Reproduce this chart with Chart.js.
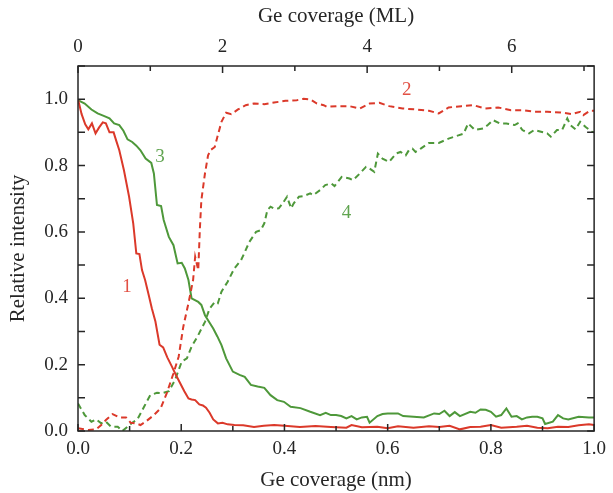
<!DOCTYPE html>
<html>
<head>
    <title>Relative intensity vs Ge coverage</title>
    <style>
        body {
            margin: 0;
            padding: 0;
            background: #fff;
        }
        .wrap {
            width: 613px;
            height: 493px;
        }
    </style>
</head>
<body>
    <div class="wrap"><canvas id="chart" width="613" height="493"></canvas></div>
    <script src="https://cdn.jsdelivr.net/npm/chart.js"></script>
    <script>
        // curve 1 (red, solid)
        var curve1X = [0, 0.007, 0.014, 0.02, 0.027, 0.034, 0.041, 0.048, 0.054, 0.061, 0.069, 0.074, 0.08, 0.089, 0.099, 0.107, 0.113, 0.119, 0.124, 0.13, 0.137, 0.143, 0.15, 0.158, 0.165, 0.173, 0.182, 0.19, 0.198, 0.206, 0.214, 0.22, 0.227, 0.235, 0.242, 0.248, 0.255, 0.262, 0.271, 0.28, 0.29, 0.303, 0.32, 0.341, 0.36, 0.38, 0.4, 0.43, 0.46, 0.49, 0.52, 0.53, 0.55, 0.58, 0.6, 0.62, 0.65, 0.68, 0.7, 0.72, 0.74, 0.76, 0.78, 0.8, 0.82, 0.85, 0.87, 0.89, 0.91, 0.93, 0.95, 0.97, 0.99, 1.0];
        var curve1Y = [1.0, 0.955, 0.924, 0.909, 0.927, 0.897, 0.915, 0.93, 0.927, 0.9, 0.9, 0.875, 0.846, 0.786, 0.706, 0.626, 0.535, 0.533, 0.485, 0.455, 0.41, 0.37, 0.33, 0.26, 0.252, 0.222, 0.194, 0.168, 0.144, 0.12, 0.098, 0.095, 0.093, 0.08, 0.077, 0.07, 0.055, 0.035, 0.023, 0.025, 0.02, 0.018, 0.017, 0.012, 0.016, 0.018, 0.016, 0.012, 0.015, 0.012, 0.01, 0.018, 0.011, 0.013, 0.008, 0.014, 0.01, 0.014, 0.012, 0.016, 0.005, 0.012, 0.013, 0.018, 0.01, 0.013, 0.016, 0.01, 0.008, 0.013, 0.012, 0.017, 0.02, 0.018];

        // curve 2 (red, dashed)
        var curve2X = [0, 0.02, 0.035, 0.045, 0.054, 0.067, 0.08, 0.093, 0.102, 0.112, 0.121, 0.131, 0.147, 0.16, 0.172, 0.185, 0.195, 0.204, 0.214, 0.223, 0.227, 0.233, 0.236, 0.239, 0.246, 0.252, 0.258, 0.265, 0.271, 0.278, 0.287, 0.297, 0.31, 0.325, 0.341, 0.361, 0.38, 0.402, 0.424, 0.437, 0.45, 0.463, 0.476, 0.482, 0.501, 0.526, 0.546, 0.565, 0.584, 0.603, 0.629, 0.654, 0.68, 0.699, 0.718, 0.743, 0.766, 0.788, 0.814, 0.839, 0.861, 0.884, 0.909, 0.935, 0.957, 0.973, 0.979, 0.992, 1.0];
        var curve2Y = [0.008, 0.003, 0.005, 0.018, 0.033, 0.051, 0.041, 0.041, 0.025, 0.023, 0.018, 0.028, 0.048, 0.068, 0.114, 0.174, 0.224, 0.314, 0.385, 0.455, 0.525, 0.485, 0.605, 0.696, 0.776, 0.831, 0.848, 0.856, 0.892, 0.932, 0.959, 0.955, 0.969, 0.982, 0.987, 0.985, 0.99, 0.995, 0.997, 1.001, 0.999, 0.987, 0.982, 0.977, 0.979, 0.979, 0.972, 0.987, 0.989, 0.979, 0.972, 0.969, 0.965, 0.957, 0.975, 0.979, 0.982, 0.972, 0.975, 0.967, 0.967, 0.962, 0.962, 0.96, 0.955, 0.962, 0.952, 0.965, 0.965];

        // curve 3 (green, solid)
        var curve3X = [0, 0.013, 0.026, 0.038, 0.051, 0.061, 0.07, 0.08, 0.088, 0.096, 0.105, 0.113, 0.121, 0.131, 0.142, 0.147, 0.153, 0.161, 0.166, 0.176, 0.185, 0.193, 0.201, 0.207, 0.214, 0.22, 0.233, 0.239, 0.246, 0.252, 0.262, 0.27, 0.278, 0.287, 0.3, 0.313, 0.323, 0.335, 0.348, 0.361, 0.373, 0.386, 0.399, 0.412, 0.431, 0.45, 0.469, 0.48, 0.49, 0.5, 0.51, 0.52, 0.53, 0.54, 0.55, 0.56, 0.565, 0.58, 0.59, 0.6, 0.62, 0.63, 0.65, 0.67, 0.69, 0.7, 0.71, 0.72, 0.73, 0.74, 0.76, 0.77, 0.78, 0.79, 0.8, 0.81, 0.82, 0.83, 0.84, 0.85, 0.86, 0.87, 0.88, 0.89, 0.9, 0.905, 0.92, 0.93, 0.94, 0.95, 0.97, 0.99, 1.0];
        var curve3Y = [0.997, 0.987, 0.969, 0.957, 0.949, 0.942, 0.927, 0.922, 0.905, 0.879, 0.871, 0.86, 0.846, 0.821, 0.808, 0.776, 0.681, 0.678, 0.636, 0.585, 0.56, 0.505, 0.507, 0.49, 0.455, 0.4, 0.389, 0.38, 0.349, 0.334, 0.309, 0.285, 0.259, 0.219, 0.179, 0.169, 0.163, 0.139, 0.134, 0.13, 0.108, 0.093, 0.088, 0.073, 0.069, 0.058, 0.048, 0.055, 0.048, 0.048, 0.045, 0.038, 0.045, 0.035, 0.041, 0.043, 0.025, 0.045, 0.051, 0.053, 0.053, 0.045, 0.043, 0.041, 0.053, 0.051, 0.061, 0.045, 0.057, 0.045, 0.058, 0.055, 0.065, 0.064, 0.058, 0.043, 0.048, 0.068, 0.043, 0.045, 0.035, 0.041, 0.043, 0.043, 0.038, 0.021, 0.028, 0.048, 0.038, 0.035, 0.043, 0.041, 0.041];

        // curve 4 (green, dashed)
        var curve4X = [0, 0.013, 0.026, 0.035, 0.045, 0.054, 0.064, 0.077, 0.086, 0.096, 0.105, 0.115, 0.128, 0.14, 0.153, 0.163, 0.176, 0.188, 0.201, 0.211, 0.22, 0.233, 0.246, 0.255, 0.265, 0.271, 0.278, 0.29, 0.303, 0.316, 0.322, 0.332, 0.345, 0.354, 0.361, 0.367, 0.373, 0.38, 0.389, 0.396, 0.405, 0.413, 0.418, 0.428, 0.437, 0.45, 0.456, 0.469, 0.479, 0.491, 0.497, 0.511, 0.526, 0.533, 0.546, 0.558, 0.565, 0.574, 0.581, 0.59, 0.603, 0.616, 0.625, 0.635, 0.641, 0.648, 0.654, 0.664, 0.68, 0.699, 0.718, 0.737, 0.747, 0.756, 0.769, 0.785, 0.794, 0.804, 0.817, 0.83, 0.846, 0.852, 0.861, 0.874, 0.884, 0.897, 0.909, 0.916, 0.928, 0.938, 0.948, 0.954, 0.964, 0.973, 0.983, 0.995, 1.0];
        var curve4Y = [0.083, 0.048, 0.028, 0.035, 0.023, 0.028, 0.013, 0.013, 0.0, 0.013, 0.025, 0.035, 0.073, 0.108, 0.115, 0.114, 0.12, 0.154, 0.209, 0.219, 0.254, 0.289, 0.329, 0.369, 0.389, 0.385, 0.42, 0.45, 0.49, 0.515, 0.535, 0.57, 0.6, 0.605, 0.626, 0.666, 0.676, 0.67, 0.671, 0.685, 0.706, 0.671, 0.686, 0.706, 0.708, 0.716, 0.711, 0.726, 0.741, 0.746, 0.738, 0.766, 0.761, 0.756, 0.776, 0.796, 0.791, 0.781, 0.836, 0.821, 0.811, 0.836, 0.841, 0.831, 0.846, 0.851, 0.841, 0.851, 0.868, 0.868, 0.881, 0.891, 0.896, 0.927, 0.907, 0.912, 0.922, 0.937, 0.927, 0.927, 0.922, 0.927, 0.907, 0.897, 0.907, 0.902, 0.897, 0.887, 0.907, 0.907, 0.942, 0.922, 0.909, 0.932, 0.917, 0.902, 0.9];

        // axis ticks
        var nmTicks = [0, 0.1, 0.2, 0.3, 0.4, 0.5, 0.6, 0.7, 0.8, 0.9, 1.0];
        var mlTicks = [0, 1, 2, 3, 4, 5, 6, 7];
        var yTicks = [0, 0.1, 0.2, 0.3, 0.4, 0.5, 0.6, 0.7, 0.8, 0.9, 1.0, 1.1];
        var mlPerNm = 7.14;

        // curve numbers
        var curveNames = ['1', '2', '3', '4'];
        var nameX = [0.095, 0.637, 0.159, 0.52];
        var nameY = [0.434, 1.027, 0.825, 0.657];

        var red = 'rgb(219,57,42)';
        var green = 'rgb(78,152,58)';
        var nameColors = ['rgb(226,80,68)', 'rgb(226,80,68)', 'rgb(96,164,80)', 'rgb(96,164,80)'];
        var ink = '#262626';
        var serif = '"Liberation Serif", "DejaVu Serif", serif';

        function pairs(xs, ys) {
            return xs.map(function(x, i) { return { x: x, y: ys[i] }; });
        }

        function keepTicks(values) {
            return function(scale) {
                scale.ticks = values.map(function(v) { return { value: v }; });
            };
        }

        function isEven(v, step) {
            var n = Math.round(v / step);
            return n % 2 === 0;
        }

        // frame, inward tick marks, curve numbers
        var framePlugin = {
            id: 'framePlugin',
            afterDatasetsDraw: function(chart) {
                var ctx = chart.ctx;
                var a = chart.chartArea;
                var sx = chart.scales.x, sy = chart.scales.y, st = chart.scales.x2;
                ctx.save();
                ctx.strokeStyle = ink;
                ctx.lineWidth = 1.5;
                ctx.beginPath();
                nmTicks.forEach(function(v) {
                    var p = sx.getPixelForValue(v);
                    var len = isEven(v, 0.1) ? 7 : 5;
                    ctx.moveTo(p, a.bottom);
                    ctx.lineTo(p, a.bottom - len);
                });
                mlTicks.forEach(function(v) {
                    var p = st.getPixelForValue(v);
                    var len = v % 2 === 0 ? 7 : 5;
                    ctx.moveTo(p, a.top);
                    ctx.lineTo(p, a.top + len);
                });
                yTicks.forEach(function(v) {
                    var p = sy.getPixelForValue(v);
                    ctx.moveTo(a.left, p);
                    ctx.lineTo(a.left + 7, p);
                    ctx.moveTo(a.right, p);
                    ctx.lineTo(a.right - 7, p);
                });
                ctx.stroke();
                ctx.strokeRect(a.left, a.top, a.right - a.left, a.bottom - a.top);

                ctx.font = '19px ' + serif;
                ctx.textAlign = 'center';
                ctx.textBaseline = 'middle';
                curveNames.forEach(function(name, i) {
                    ctx.fillStyle = nameColors[i];
                    ctx.fillText(name, sx.getPixelForValue(nameX[i]), sy.getPixelForValue(nameY[i]));
                });
                ctx.restore();
            }
        };

        var tickFont = { family: serif, size: 19 };
        var titleFont = { family: serif, size: 21 };

        new Chart(document.getElementById('chart'), {
            type: 'line',
            data: {
                datasets: [
                    { data: pairs(curve1X, curve1Y), borderColor: red, borderWidth: 2 },
                    { data: pairs(curve2X, curve2Y), borderColor: red, borderWidth: 2, borderDash: [6, 4] },
                    { data: pairs(curve3X, curve3Y), borderColor: green, borderWidth: 2 },
                    { data: pairs(curve4X, curve4Y), borderColor: green, borderWidth: 2, borderDash: [6, 4] }
                ]
            },
            options: {
                responsive: false,
                animation: false,
                parsing: false,
                elements: {
                    point: { radius: 0 },
                    line: { tension: 0, fill: false }
                },
                layout: { padding: { left: 0, right: 12, top: 0, bottom: 0 } },
                plugins: {
                    legend: { display: false },
                    tooltip: { enabled: false }
                },
                scales: {
                    x: {
                        type: 'linear',
                        position: 'bottom',
                        min: 0,
                        max: 1.0,
                        afterBuildTicks: keepTicks(nmTicks),
                        afterFit: function(s) { s.height = 62; },
                        grid: { display: false, drawTicks: false },
                        border: { display: false },
                        ticks: {
                            font: tickFont,
                            color: ink,
                            padding: 7,
                            maxRotation: 0,
                            autoSkip: false,
                            callback: function(v) { return isEven(v, 0.1) ? v.toFixed(1) : ''; }
                        },
                        title: {
                            display: true,
                            text: 'Ge coverage (nm)',
                            font: titleFont,
                            color: ink,
                            padding: { top: 0, bottom: 0 }
                        }
                    },
                    x2: {
                        type: 'linear',
                        position: 'top',
                        min: 0,
                        max: mlPerNm,
                        afterBuildTicks: keepTicks(mlTicks),
                        afterFit: function(s) { s.height = 66; },
                        grid: { display: false, drawTicks: false },
                        border: { display: false },
                        ticks: {
                            font: tickFont,
                            color: ink,
                            padding: 8,
                            maxRotation: 0,
                            autoSkip: false,
                            callback: function(v) { return v % 2 === 0 ? String(v) : ''; }
                        },
                        title: {
                            display: true,
                            text: 'Ge coverage (ML)',
                            font: titleFont,
                            color: ink,
                            padding: { top: 4, bottom: 0 }
                        }
                    },
                    y: {
                        type: 'linear',
                        position: 'left',
                        min: 0,
                        max: 1.1,
                        afterBuildTicks: keepTicks(yTicks),
                        afterFit: function(s) { s.width = 78; },
                        grid: { display: false, drawTicks: false },
                        border: { display: false },
                        ticks: {
                            font: tickFont,
                            color: ink,
                            padding: 10,
                            autoSkip: false,
                            callback: function(v) { return (isEven(v, 0.1) && v < 1.05) ? v.toFixed(1) : ''; }
                        },
                        title: {
                            display: true,
                            text: 'Relative intensity',
                            font: titleFont,
                            color: ink,
                            padding: { top: 6, bottom: 0 }
                        }
                    }
                }
            },
            plugins: [framePlugin]
        });
    </script>
</body>
</html>
